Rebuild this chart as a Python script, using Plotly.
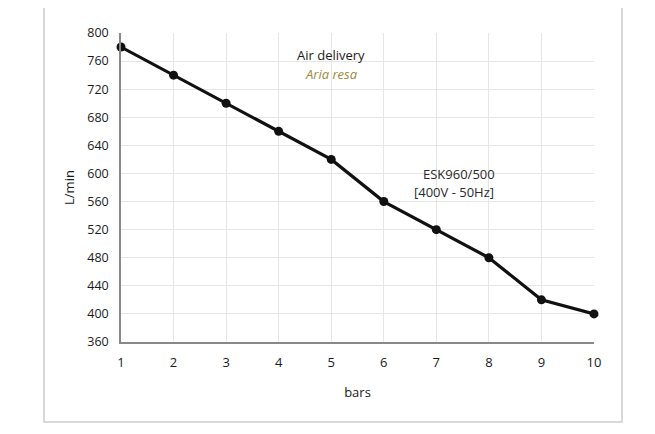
import plotly.graph_objects as go

bars = [1, 2, 3, 4, 5, 6, 7, 8, 9, 10]
air_delivery = [780, 740, 700, 660, 620, 560, 520, 480, 420, 400]
y_ticks = [360, 400, 440, 480, 520, 560, 600, 640, 680, 720, 760, 800]

FONT = "Open Sans"
OFF = 8  # page body offset
W, H = 655, 434
L, R, T, B = 121 - OFF, 61 + OFF, 33 - OFF, 92 + OFF
pw, ph = W - L - R, H - T - B

def px(x):
    return (x - OFF - L) / pw

def py(y):
    return (H - B - (y - OFF)) / ph

fig = go.Figure()
fig.add_trace(go.Scatter(
    x=bars, y=air_delivery, mode="lines+markers",
    line=dict(color="#111111", width=3.2),
    marker=dict(color="#111111", size=9),
    showlegend=False, cliponaxis=False,
))

fig.update_layout(
    width=W, height=H,
    margin=dict(l=L, r=R, t=T, b=B),
    paper_bgcolor="white", plot_bgcolor="white",
    font=dict(family=FONT, size=12, color="#1a1a1a"),
    xaxis=dict(
        range=[1, 10], tickvals=bars, showgrid=True, gridcolor="#e6e6e6",
        showline=True, linecolor="#888888", linewidth=1.5, zeroline=False,
        ticks="", ticklabelstandoff=8,
        title=dict(text="bars", standoff=18, font=dict(size=13, color="#1a1a1a")),
        tickfont=dict(size=13, color="#1a1a1a"),
    ),
    yaxis=dict(
        range=[360, 800], tickvals=y_ticks, showgrid=True, gridcolor="#e6e6e6",
        showline=True, linecolor="#888888", linewidth=1.5, zeroline=False,
        ticks="", ticklabelstandoff=8,
        title=dict(text="L/min", standoff=10, font=dict(size=13, color="#1a1a1a")),
        tickfont=dict(size=12.5, color="#1a1a1a"),
    ),
    shapes=[dict(
        type="rect", xref="paper", yref="paper",
        x0=px(44), x1=px(622), y0=py(422), y1=py(6),
        line=dict(color="#cccccc", width=1.5), fillcolor="rgba(0,0,0,0)",
        layer="below",
    )],
    annotations=[
        dict(text="Air delivery", xref="paper", yref="paper", x=px(331), y=py(44),
             showarrow=False, font=dict(family=FONT, size=13, color="#1a1a1a")),
        dict(text="<i>Aria resa</i>", xref="paper", yref="paper", x=px(331), y=py(63),
             showarrow=False, font=dict(family=FONT, size=13, color="#9a8a40")),
        dict(text="ESK960/500", xref="paper", yref="paper", x=px(497), y=py(174),
             showarrow=False, font=dict(family=FONT, size=13, color="#2a2a2a")),
        dict(text="[400V - 50Hz]", xref="paper", yref="paper", x=px(496), y=py(192),
             showarrow=False, font=dict(family=FONT, size=13, color="#2a2a2a")),
    ],
)

fig.write_html("out.html")
